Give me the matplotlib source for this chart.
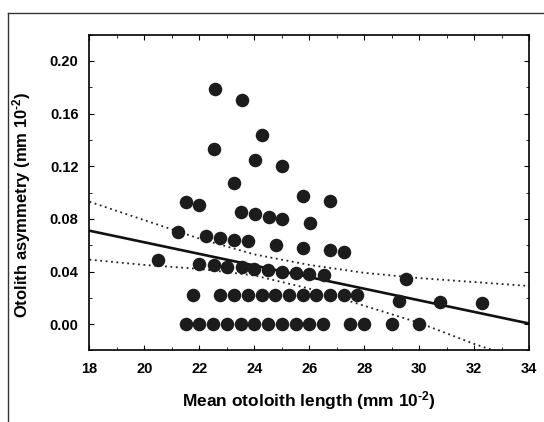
import numpy as np
import matplotlib
matplotlib.use("Agg")
import matplotlib.pyplot as plt
from matplotlib.lines import Line2D
from matplotlib.ticker import MultipleLocator

plt.rcParams['font.family'] = ['Liberation Sans', 'DejaVu Sans']
plt.rcParams['font.weight'] = 'bold'
plt.rcParams['mathtext.fontset'] = 'custom'
plt.rcParams['mathtext.rm'] = 'Liberation Sans:bold'
plt.rcParams['mathtext.it'] = 'Liberation Sans:bold'
plt.rcParams['mathtext.bf'] = 'Liberation Sans:bold'

# observations: mean otolith length vs asymmetry
length = [21.5, 22.0, 22.5, 23.0, 23.5, 24.0, 24.5, 25.0, 25.5, 26.0, 26.5, 27.5, 28.0, 29.0, 30.0,
          21.75, 22.76, 23.25, 23.76, 24.27, 24.75, 25.26, 25.76, 26.26, 26.76, 27.26, 27.74, 29.27, 30.77, 32.29,
          20.5, 22.0, 22.52, 23.02, 23.54, 24.0, 24.51, 25.0, 25.5, 26.0, 26.53, 29.52,
          21.24, 22.25, 22.76, 23.26, 23.77, 24.78, 25.77, 26.76, 27.27,
          21.51, 21.98, 23.53, 24.02, 24.53, 25.01, 26.03, 25.79, 26.77,
          22.56, 23.55, 24.28, 22.53, 24.01, 25.01, 23.26]
asymmetry = [0.0] * 15 + \
    [0.022] * 12 + [0.0177, 0.0165, 0.016] + \
    [0.0489, 0.0456, 0.0448, 0.0438, 0.0431, 0.0418, 0.041, 0.040, 0.039, 0.0382, 0.0375, 0.0342] + \
    [0.0702, 0.0671, 0.0656, 0.0641, 0.0629, 0.0603, 0.058, 0.0562, 0.055] + \
    [0.093, 0.0907, 0.0853, 0.0834, 0.0815, 0.0798, 0.0768, 0.097, 0.0935] + \
    [0.1784, 0.1705, 0.1436, 0.1328, 0.1246, 0.120, 0.1072]

# regression line and confidence band
fit_x = [18, 34]
fit_y = [0.071, 0.0005]
band_x = [18, 20, 22, 24, 26, 28, 30, 32, 34]
band_upper = [0.093, 0.079, 0.065, 0.053, 0.045, 0.039, 0.035, 0.032, 0.029]
band_lower = [0.049, 0.045, 0.042, 0.037, 0.027, 0.014, 0.001, -0.015, -0.029]

fig = plt.figure(figsize=(5.44, 4.22), dpi=100)
ax = fig.add_axes([0.1645, 0.1695, 0.808, 0.7485])

ax.scatter(length, asymmetry, s=95, color='#1c1c1c', zorder=3, linewidths=0)
ax.plot(fit_x, fit_y, color='#111111', lw=1.9, zorder=2)
ax.plot(band_x, band_upper, color='#222222', lw=1.3, ls=(0, (1, 2)), zorder=2)
ax.plot(band_x, band_lower, color='#222222', lw=1.3, ls=(0, (1, 2)), zorder=2)

ax.set_xlim(18, 34)
ax.set_ylim(-0.02, 0.22)
ax.set_xticks(np.arange(18, 35, 2))
ax.set_yticks([0.0, 0.04, 0.08, 0.12, 0.16, 0.20])
ax.xaxis.set_minor_locator(MultipleLocator(1))
ax.yaxis.set_minor_locator(MultipleLocator(0.02))
ax.tick_params(which='both', direction='in', top=True, right=True, labelsize=10.5, pad=8)
ax.tick_params(which='major', length=3.5, width=0.8)
ax.tick_params(which='minor', length=2, width=0.6)
ax.set_xticklabels([str(v) for v in range(18, 35, 2)])
ax.set_yticklabels(['0.00', '0.04', '0.08', '0.12', '0.16', '0.20'])
for sp in ax.spines.values():
    sp.set_linewidth(1.2)

ax.set_xlabel(r'Mean otoloith length (mm 10$^{\text{-2}}$)', fontsize=12.5, fontweight='bold', labelpad=10)
ax.set_ylabel(r'Otolith asymmetry (mm 10$^{\text{-2}}$)', fontsize=12, fontweight='bold')
ax.yaxis.set_label_coords(-0.128, 0.46)

# outer frame of the figure panel
fig.add_artist(Line2D([0.014, 0.014], [0.0, 0.969], color='#333333', lw=1.0))
fig.add_artist(Line2D([0.014, 1.0], [0.969, 0.969], color='#333333', lw=1.0))

fig.savefig('out.png', dpi=100)
